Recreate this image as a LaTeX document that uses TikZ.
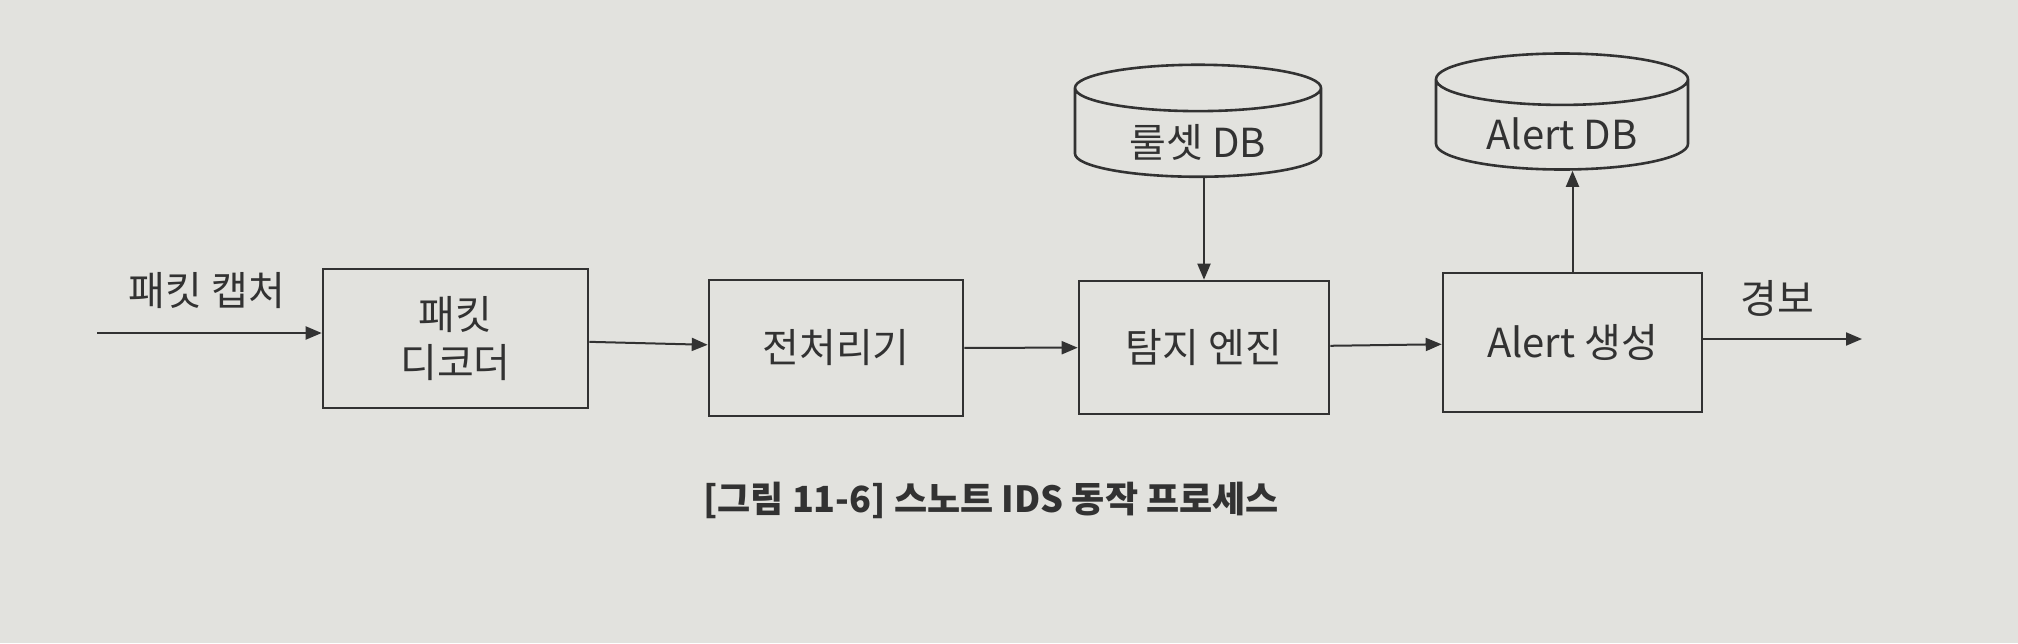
\documentclass[tikz,border=0pt]{standalone}
\usepackage{fontspec}
\usetikzlibrary{shapes.geometric,arrows.meta}
\newfontfamily\krfont{Noto Sans CJK KR}
\definecolor{paper}{RGB}{226,226,222}
\definecolor{ink}{RGB}{50,50,50}
\newcommand{\dbtext}[1]{\raisebox{-12pt}[0pt][0pt]{#1}}
\begin{document}
\begin{tikzpicture}[x=0.5pt,y=-0.5pt,
  every node/.style={text=ink},
  procbox/.style={draw=ink,line width=1.3pt,fill=paper,align=center,inner sep=0pt,
    font=\krfont\fontsize{20pt}{24pt}\selectfont},
  dbcyl/.style={draw=ink,line width=1.3pt,fill=paper,cylinder,shape border rotate=90,
    aspect=0.34,inner sep=0pt,font=\krfont\fontsize{20pt}{24pt}\selectfont},
  flow/.style={draw=ink,line width=1pt,-{Triangle[length=8pt,width=6.5pt]}},
  lbl/.style={font=\krfont\fontsize{20pt}{24pt}\selectfont},
  captext/.style={font=\krfont\bfseries\fontsize{18pt}{22pt}\selectfont}
]
\fill[paper] (0,0) rectangle (2018,643);
\useasboundingbox (0,0) rectangle (2018,643);

\node[procbox,minimum width=132.5pt,minimum height=69.5pt] (dec) at (455.5,338.5) {패킷\\디코더};
\node[procbox,minimum width=127pt,minimum height=68pt] (pre) at (836,348) {전처리기};
\node[procbox,minimum width=125pt,minimum height=66.5pt] (det) at (1204,347.5) {탐지 엔진};
\node[procbox,minimum width=129.5pt,minimum height=69.5pt] (alr) at (1572.5,342.5) {Alert 생성};
\node[dbcyl,minimum width=123pt,minimum height=56pt] (rdb) at (1198,133) {\dbtext{룰셋 DB}};
\node[dbcyl,minimum width=126pt,minimum height=58pt] (adb) at (1562,125) {\dbtext{Alert DB}};

\coordinate (in) at (97,333);
\coordinate (out) at (1862,339);

\node[lbl] (lin) at (207,291) {패킷 캡처};
\node[lbl] (lout) at (1777,298) {경보};

\draw[flow] (in) -- (in -| dec.west);
\draw[flow] (dec) -- (pre);
\draw[flow] (pre) -- (det);
\draw[flow] (det) -- (alr);
\draw[flow] (alr.east |- out) -- (out);
\draw[flow] (rdb.south -| det.north) -- (det.north);
\draw[flow] (alr.north) -- (alr.north |- adb.south);

\node[captext] (caption) at (991,500) {[그림 11-6] 스노트 IDS 동작 프로세스};
\end{tikzpicture}
\end{document}
